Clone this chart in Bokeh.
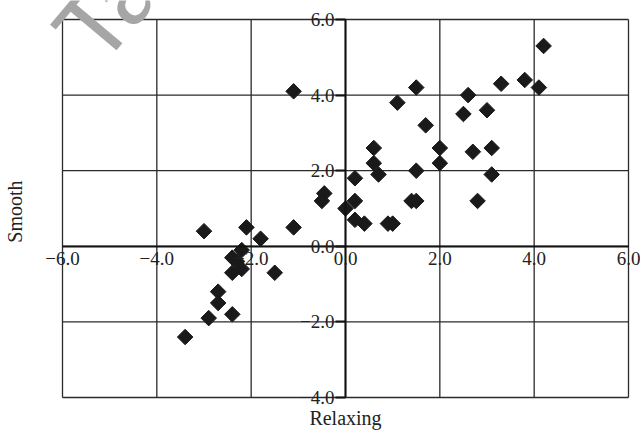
import math
from bokeh.plotting import figure
from bokeh.models import LinearAxis, FixedTicker, Label, LabelSet, ColumnDataSource, Range1d
from bokeh.embed import file_html
from bokeh.resources import INLINE

# data
relaxing = [4.2, 3.3, 3.8, 4.1, 1.5, 1.1, 2.6, 2.5, 3.0, 1.7,
            0.6, 0.6, 0.7, 0.2, 2.0, 2.0, 1.5, 2.7, 3.1, 3.1,
            2.8, 1.4, 1.5, 0.2, 0.0, 0.2, 0.4, 0.9, 1.0, -0.45,
            -0.5, -1.1, -1.1, -1.8, -2.1, -3.0, -2.2, -2.4, -2.3, -2.4,
            -2.2, -1.5, -2.7, -2.7, -2.9, -2.4, -3.4]
smooth = [5.3, 4.3, 4.4, 4.2, 4.2, 3.8, 4.0, 3.5, 3.6, 3.2,
          2.6, 2.2, 1.9, 1.8, 2.6, 2.2, 2.0, 2.5, 2.6, 1.9,
          1.2, 1.2, 1.2, 1.2, 1.0, 0.7, 0.6, 0.6, 0.6, 1.4,
          1.2, 4.1, 0.5, 0.2, 0.5, 0.4, -0.1, -0.3, -0.4, -0.7,
          -0.6, -0.7, -1.2, -1.5, -1.9, -1.8, -2.4]

x_ticks = [-6, -4, -2, 0, 2, 4, 6]
x_tick_labels = ["\u22126.0", "\u22124.0", "\u22122.0", "0.0", "2.0", "4.0", "6.0"]
y_ticks = [-4, -2, 0, 2, 4, 6]
y_tick_labels = ["\u22124.0", "\u22122.0", "0.0", "2.0", "4.0", "6.0"]
x_title = "Relaxing"
y_title = "Smooth"
watermark = "Ta"

FONT = "Liberation Serif"
INK = "#222222"

# layout: plot box from px 62..628 horizontally and 19..397 vertically
W, H = 640, 432
L, R, T, B = 62, 12, 19, 35
xmin, xmax = x_ticks[0], x_ticks[-1]
ymin, ymax = y_ticks[0], y_ticks[-1]
sx = (W - L - R) / (xmax - xmin)
sy = (H - T - B) / (ymax - ymin)

p = figure(width=W, height=H,
           x_range=Range1d(xmin - L / sx, xmax + R / sx),
           y_range=Range1d(ymin - B / sy, ymax + T / sy),
           x_axis_location=None, y_axis_location=None, min_border=0,
           toolbar_location=None, output_backend="svg")
p.background_fill_color = "white"
p.border_fill_color = "white"
p.outline_line_color = None
p.xgrid.visible = False
p.ygrid.visible = False

# grid lines (including the box edges)
p.segment(x0=x_ticks, y0=[ymin] * len(x_ticks), x1=x_ticks, y1=[ymax] * len(x_ticks),
          line_color="#2a2a2a", line_width=1.3)
p.segment(x0=[xmin] * len(y_ticks), y0=y_ticks, x1=[xmax] * len(y_ticks), y1=y_ticks,
          line_color="#2a2a2a", line_width=1.3)

# axes crossing at the origin (lines and ticks only)
xax = LinearAxis(fixed_location=0, ticker=FixedTicker(ticks=x_ticks), bounds=(xmin, xmax))
xax.axis_line_width = 2
xax.axis_line_color = "#111111"
xax.major_tick_out = 0
xax.major_tick_in = 0
xax.minor_tick_line_color = None
xax.major_label_text_color = None
xax.major_label_text_font_size = "1px"
p.add_layout(xax, "below")

yax = LinearAxis(fixed_location=0, ticker=FixedTicker(ticks=y_ticks), bounds=(ymin, ymax))
yax.axis_line_width = 2
yax.axis_line_color = "#111111"
yax.major_tick_out = 10
yax.major_tick_in = 0
yax.major_tick_line_width = 2
yax.major_tick_line_color = "#111111"
yax.minor_tick_line_color = None
yax.major_label_text_color = None
yax.major_label_text_font_size = "1px"
p.add_layout(yax, "left")

# tick labels
xsrc = ColumnDataSource(data=dict(x=x_ticks, y=[0] * len(x_ticks), t=x_tick_labels))
p.add_layout(LabelSet(x="x", y="y", text="t", source=xsrc, y_offset=-6,
                      text_align="center", text_baseline="top",
                      text_font=FONT, text_font_size="19px", text_color=INK))
ysrc = ColumnDataSource(data=dict(x=[0] * len(y_ticks), y=y_ticks, t=y_tick_labels))
p.add_layout(LabelSet(x="x", y="y", text="t", source=ysrc, x_offset=-11,
                      text_align="right", text_baseline="middle",
                      text_font=FONT, text_font_size="19px", text_color=INK))

# axis titles
p.add_layout(Label(x=(xmin + xmax) / 2, y=ymin, y_offset=-20, text=x_title,
                   text_align="center", text_baseline="middle",
                   text_font=FONT, text_font_size="20px", text_color=INK))
p.add_layout(Label(x=xmin, y=(ymin + ymax) / 2 - 0.08, x_offset=-48, text=y_title,
                   angle=math.pi / 2, text_align="center", text_baseline="middle",
                   text_font=FONT, text_font_size="20px", text_color=INK))

src = ColumnDataSource(data=dict(x=relaxing, y=smooth))
p.scatter("x", "y", source=src, marker="square", size=11, angle=math.pi / 4,
          fill_color="#1a1a1a", line_color="#1a1a1a")

wm = Label(x=-5.75, y=5.25, text=watermark, angle=math.radians(50),
           text_font="Liberation Sans", text_font_size="98px", text_color="#a6a6a6",
           text_align="left", text_baseline="alphabetic")
p.add_layout(wm)

open("out.html", "w").write(file_html(p, INLINE))
